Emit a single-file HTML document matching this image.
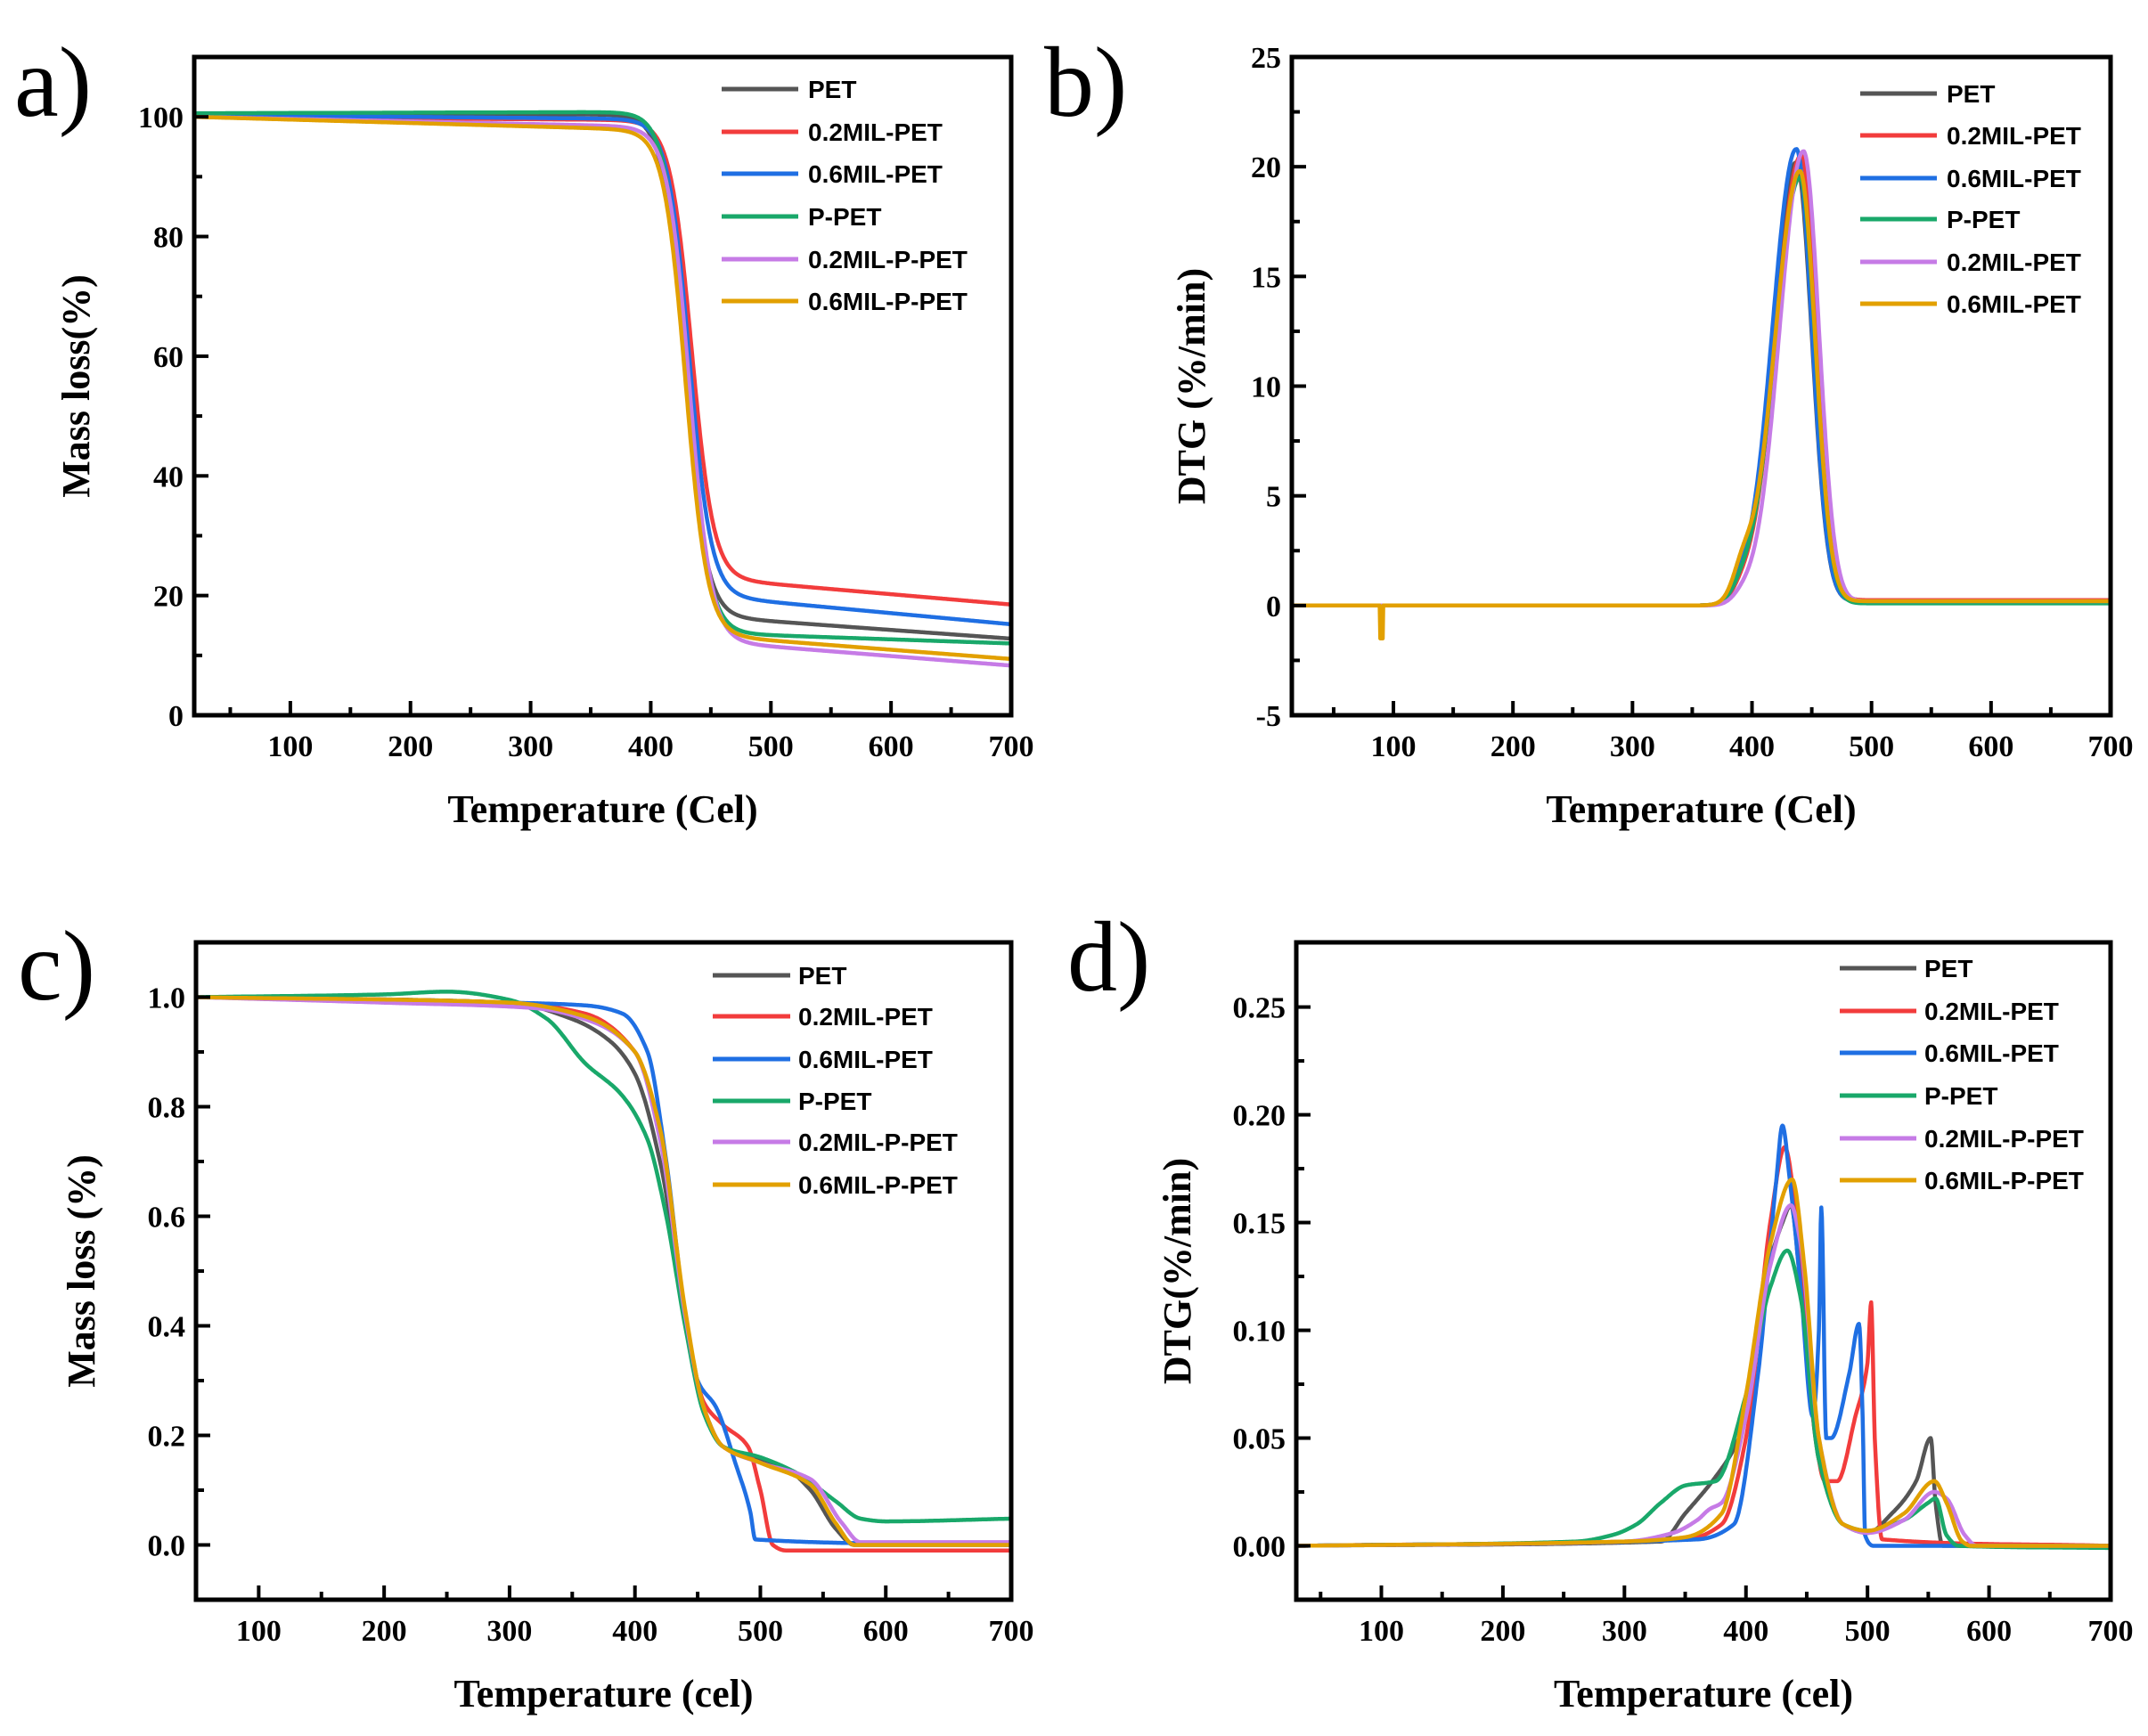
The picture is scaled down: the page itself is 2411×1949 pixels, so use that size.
<!DOCTYPE html>
<html><head><meta charset="utf-8"><style>
html,body{margin:0;padding:0;background:#fff;}
svg{display:block;}
.t{font-family:"Liberation Serif",serif;font-weight:bold;font-size:34px;fill:#000;}
.ti{font-family:"Liberation Serif",serif;font-weight:bold;font-size:44px;fill:#000;}
.lg{font-family:"Liberation Sans",sans-serif;font-weight:bold;font-size:28px;fill:#000;}
.pl{font-family:"Liberation Serif",serif;font-size:112px;fill:#000;}
</style></head><body>
<svg id="s" width="2411" height="1949" viewBox="0 0 2411 1949" xmlns="http://www.w3.org/2000/svg">
<text class="pl" x="16" y="130">a)</text>
<text class="pl" x="1172" y="130">b)</text>
<text class="pl" x="20" y="1122">c)</text>
<text class="pl" x="1198" y="1112">d)</text>
</svg>
<script>
const S=document.getElementById('s');const NS='http://www.w3.org/2000/svg';
function el(n,a,txt){const e=document.createElementNS(NS,n);for(const k in a)e.setAttribute(k,a[k]);if(txt!==undefined)e.textContent=txt;S.appendChild(e);return e;}
const C={PET:'#555555',r:'#f23c3c',b:'#1f6fe3',g:'#19a86a',p:'#c67be6',o:'#e2a000'};
const names=['PET','0.2MIL-PET','0.6MIL-PET','P-PET','0.2MIL-P-PET','0.6MIL-P-PET'];
const cols=[C.PET,C.r,C.b,C.g,C.p,C.o];
function panel(P){
 const X=v=>P.L+(v-P.x0)/(P.x1-P.x0)*(P.R-P.L);
 const Y=v=>P.B-(v-P.y0)/(P.y1-P.y0)*(P.B-P.T);
 P.series.forEach((f,i)=>{let d='';
  for(let t=P.x0;t<=700;t+=0.5){const v=f(t);d+=(t==P.x0?'M':'L')+X(t).toFixed(1)+','+Y(v).toFixed(1);}
  el('path',{d:d,fill:'none',stroke:cols[i],'stroke-width':4.5,'stroke-linejoin':'round'});});
 el('rect',{x:P.L,y:P.T,width:P.R-P.L,height:P.B-P.T,fill:'none',stroke:'#000','stroke-width':5});
 for(let t=100;t<=700;t+=50){const x=X(t);const maj=t%100==0;
  el('line',{x1:x,y1:P.B,x2:x,y2:P.B-(maj?16:9),stroke:'#000','stroke-width':4});
  if(maj)el('text',{class:'t',x:x,y:P.B+46,'text-anchor':'middle'},String(t));}
 if(P.x0<50){const x=X(50);el('line',{x1:x,y1:P.B,x2:x,y2:P.B-9,stroke:'#000','stroke-width':4});}
 P.yt.forEach(([v,lab])=>{const y=Y(v);
  el('line',{x1:P.L,y1:y,x2:P.L+(lab!==null?16:9),y2:y,stroke:'#000','stroke-width':4});
  if(lab!==null)el('text',{class:'t',x:P.L-12,y:y+12,'text-anchor':'end'},lab);});
 el('text',{class:'ti',x:(P.L+P.R)/2,y:P.B+120,'text-anchor':'middle'},P.xl);
 el('text',{class:'ti',x:0,y:0,'text-anchor':'middle',transform:`translate(${P.yx},${(P.T+P.B)/2}) rotate(-90)`},P.yl);
 P.leg.rows.forEach((ry,i)=>{
  el('line',{x1:P.leg.x1,y1:ry,x2:P.leg.x2,y2:ry,stroke:cols[i],'stroke-width':5});
  el('text',{class:'lg',x:P.leg.tx,y:ry+10},P.legNames?P.legNames[i]:names[i]);});
}
function lerp(pts){const n=pts.length,xs=pts.map(p=>p[0]),ys=pts.map(p=>p[1]);
 const dl=[],m=new Array(n);for(let i=0;i<n-1;i++)dl.push((ys[i+1]-ys[i])/(xs[i+1]-xs[i]));
 m[0]=dl[0];m[n-1]=dl[n-2];
 for(let i=1;i<n-1;i++){if(dl[i-1]*dl[i]<=0)m[i]=0;else{const w1=2*(xs[i+1]-xs[i])+(xs[i]-xs[i-1]),w2=(xs[i+1]-xs[i])+2*(xs[i]-xs[i-1]);m[i]=(w1+w2)/(w1/dl[i-1]+w2/dl[i]);}}
 return t=>{if(t<=xs[0])return ys[0];if(t>=xs[n-1])return ys[n-1];
  let i=0;while(t>xs[i+1])i++;const h=xs[i+1]-xs[i],s=(t-xs[i])/h;
  const h00=2*s*s*s-3*s*s+1,h10=s*s*s-2*s*s+s,h01=-2*s*s*s+3*s*s,h11=s*s*s-s*s;
  return h00*ys[i]+h10*h*m[i]+h01*ys[i+1]+h11*h*m[i+1];};}
function tga(Tc,w,p0,p1,r0,r1){return t=>{const P=p0+(p1-p0)*(t-20)/350;const R=r0+(r1-r0)*(t-480)/220;return R+(P-R)/(1+Math.exp((t-Tc)/w));};}
function dtg(c,h,sl,sr,tail,sh){return t=>{const s=t<c?sl:sr;let v=h*Math.exp(-Math.pow((t-c)/s,2)/2);
 if(t>c)v+=tail*(1/(1+Math.exp(-(t-c-20)/8)));if(sh)v+=sh*Math.exp(-Math.pow((t-392)/8,2)/2);return v;};}
panel({L:218,R:1135,T:64,B:803,x0:20,x1:700,y0:0,y1:110,
 series:[tga(428,9,100.5,100.4,16,12.8),tga(434,9,100,99.5,22.3,18.5),tga(432,9,100.3,99.7,19.3,15.2),tga(430,9,100.6,100.8,13.5,12),tga(432,9,100,98.5,11.8,8.3),tga(429,9,100,98,12.8,9.4)],
 yt:[[0,'0'],[10,null],[20,'20'],[30,null],[40,'40'],[50,null],[60,'60'],[70,null],[80,'80'],[90,null],[100,'100']],
 xl:'Temperature (Cel)',yl:'Mass loss(%)',yx:100,
 leg:{x1:810,x2:896,tx:907,rows:[100,148,195,243,291,338]}});
const spk=f=>t=>f(t)+(Math.abs(t-90)<1.5?-1.5:0);
panel({L:1450,R:2369,T:64,B:803,x0:15,x1:700,y0:-5,y1:25,
 series:[dtg(437,20.2,20,13,0.2,0.5),dtg(441,20.5,21,13,0.25,0.4),dtg(437,20.8,20,13,0.2,0.4),dtg(440,19.5,21,13,0.1,0.5),dtg(443,20.7,20,13,0.2,0.3),spk(dtg(440,19.8,21,13,0.2,1.2))],
 yt:[[-5,'-5'],[-2.5,null],[0,'0'],[2.5,null],[5,'5'],[7.5,null],[10,'10'],[12.5,null],[15,'15'],[17.5,null],[20,'20'],[22.5,null],[25,'25']],
 xl:'Temperature (Cel)',yl:'DTG (%/min)',yx:1352,legNames:['PET','0.2MIL-PET','0.6MIL-PET','P-PET','0.2MIL-PET','0.6MIL-PET'],
 leg:{x1:2088,x2:2174,tx:2185,rows:[105,152,200,246,294,341]}});
panel({L:220,R:1135,T:1058,B:1796,x0:50,x1:700,y0:-0.1,y1:1.1,
 series:[lerp([[50,1],[300,0.99],[350,0.96],[380,0.92],[400,0.86],[420,0.7],[440,0.42],[455,0.25],[470,0.18],[490,0.16],[520,0.14],[540,0.1],[560,0.03],[575,0],[700,0]]),
 lerp([[50,1],[300,0.99],[360,0.97],[400,0.9],[420,0.75],[440,0.42],[455,0.26],[470,0.22],[490,0.18],[500,0.1],[510,0],[520,-0.01],[700,-0.01]]),
 lerp([[50,1],[300,0.99],[360,0.985],[390,0.97],[410,0.9],[425,0.7],[440,0.42],[450,0.3],[465,0.25],[480,0.15],[492,0.06],[496,0.01],[700,0.0]]),
 lerp([[50,1],[200,1.005],[250,1.01],[300,0.995],[330,0.96],[360,0.88],[390,0.82],[410,0.74],[425,0.6],[440,0.4],[455,0.24],[470,0.18],[500,0.16],[530,0.13],[560,0.08],[580,0.048],[600,0.043],[700,0.048]]),
 lerp([[50,1],[200,0.99],[320,0.98],[360,0.96],[400,0.9],[420,0.74],[440,0.42],[455,0.25],[470,0.18],[500,0.15],[540,0.12],[565,0.04],[580,0.005],[700,0.005]]),
 lerp([[50,1],[300,0.99],[360,0.965],[400,0.9],[420,0.76],[440,0.43],[455,0.25],[470,0.18],[500,0.15],[540,0.11],[560,0.04],[575,0],[700,0]])],
 yt:[[0,'0.0'],[0.1,null],[0.2,'0.2'],[0.3,null],[0.4,'0.4'],[0.5,null],[0.6,'0.6'],[0.7,null],[0.8,'0.8'],[0.9,null],[1.0,'1.0']],
 xl:'Temperature (cel)',yl:'Mass loss (%)',yx:106,
 leg:{x1:800,x2:887,tx:896,rows:[1095,1141,1189,1236,1282,1330]}});
panel({L:1455,R:2369,T:1058,B:1796,x0:30,x1:700,y0:-0.025,y1:0.28,
 series:[lerp([[30,0],[330,0.002],[350,0.015],[375,0.032],[390,0.045],[400,0.06],[415,0.12],[430,0.15],[437,0.158],[445,0.12],[460,0.04],[480,0.01],[500,0.006],[520,0.015],[540,0.03],[552,0.05],[556,0.02],[562,0],[700,0]]),
 lerp([[30,0],[350,0.003],[380,0.01],[400,0.05],[420,0.15],[432,0.185],[440,0.16],[455,0.06],[465,0.03],[475,0.03],[490,0.06],[500,0.085],[503,0.113],[506,0.05],[512,0.003],[700,0]]),
 lerp([[30,0],[360,0.003],[390,0.01],[410,0.08],[425,0.17],[430,0.195],[436,0.17],[445,0.12],[455,0.06],[460,0.1],[462,0.157],[466,0.05],[470,0.05],[485,0.08],[493,0.103],[496,0.06],[498,0.005],[505,0],[700,0]]),
 lerp([[30,0],[260,0.002],[290,0.005],[310,0.01],[330,0.02],[350,0.028],[375,0.03],[400,0.07],[420,0.12],[434,0.137],[445,0.115],[460,0.04],[480,0.01],[500,0.007],[530,0.012],[550,0.02],[556,0.022],[565,0.005],[575,0],[700,-0.001]]),
 lerp([[30,0],[300,0.002],[340,0.006],[360,0.012],[370,0.017],[380,0.02],[400,0.06],[420,0.13],[437,0.158],[445,0.14],[460,0.05],[480,0.01],[500,0.006],[530,0.012],[555,0.025],[565,0.022],[580,0.005],[590,0],[700,0]]),
 lerp([[30,0],[300,0.002],[350,0.004],[380,0.015],[400,0.07],[420,0.14],[438,0.17],[448,0.13],[460,0.05],[480,0.01],[500,0.007],[530,0.015],[555,0.03],[565,0.02],[578,0.002],[585,0],[700,0]])],
 yt:[[0,'0.00'],[0.025,null],[0.05,'0.05'],[0.075,null],[0.1,'0.10'],[0.125,null],[0.15,'0.15'],[0.175,null],[0.2,'0.20'],[0.225,null],[0.25,'0.25']],
 xl:'Temperature (cel)',yl:'DTG(%/min)',yx:1336,
 leg:{x1:2065,x2:2151,tx:2160,rows:[1087,1135,1182,1230,1278,1325]}});
</script>
</body></html>
